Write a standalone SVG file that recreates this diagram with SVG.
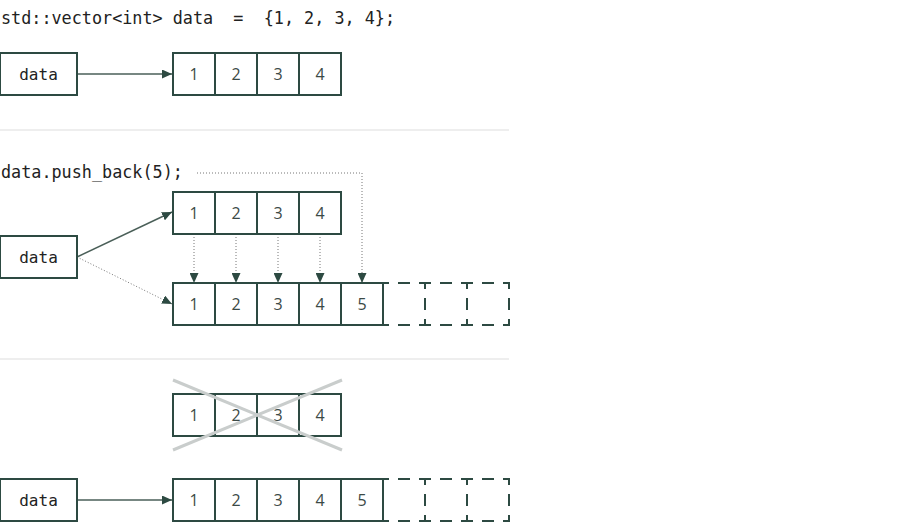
<svg xmlns="http://www.w3.org/2000/svg" width="900" height="531" viewBox="0 0 900 531">
<defs>
<marker id="ah" markerUnits="userSpaceOnUse" markerWidth="10" markerHeight="9" refX="10" refY="4.5" orient="auto"><path d="M0,0 L10,4.5 L0,9 z" fill="#2d4a42"/></marker>
<style>
.code{font-family:"DejaVu Sans Mono","Liberation Mono",monospace;font-size:16.8px;fill:#222}
.lbl{font-family:"DejaVu Sans Mono","Liberation Mono",monospace;font-size:16px;fill:#222;text-anchor:middle}
.num{font-family:"Open Sans","Noto Sans",sans-serif;font-size:16px;fill:#3c4a46;text-anchor:middle}
.box{fill:#fff;stroke:#2d4a42;stroke-width:2}
.dash{fill:none;stroke:#2d4a42;stroke-width:2;stroke-dasharray:12 9;stroke-dashoffset:6}
.sep{stroke:#dddddd;stroke-width:1}
.solid{stroke:#4a5f58;stroke-width:1.5;fill:none}
.dot{stroke:#777;stroke-width:1;stroke-dasharray:1 2;fill:none}
.cross{stroke:#c9cdcc;stroke-width:3}
</style>
</defs>
<rect width="900" height="531" fill="#fff"/>
<text class="code" x="1" y="24" xml:space="preserve">std::vector&lt;int&gt; data  =  {1, 2, 3, 4};</text>
<text class="code" x="1" y="178">data.push_back(5);</text>
<line class="sep" x1="0" y1="130" x2="509" y2="130"/>
<line class="sep" x1="0" y1="359" x2="509" y2="359"/>
<g id="connectors">
<line class="solid" x1="77" y1="74" x2="172" y2="74" marker-end="url(#ah)"/>
<line class="solid" x1="77" y1="257" x2="172" y2="212" marker-end="url(#ah)"/>
<line class="dot" x1="77" y1="257" x2="172" y2="304" marker-end="url(#ah)"/>
<polyline class="dot" points="197,173 362,173 362,283" marker-end="url(#ah)"/>
<line class="dot" x1="194" y1="234" x2="194" y2="283" marker-end="url(#ah)"/>
<line class="dot" x1="236" y1="234" x2="236" y2="283" marker-end="url(#ah)"/>
<line class="dot" x1="278" y1="234" x2="278" y2="283" marker-end="url(#ah)"/>
<line class="dot" x1="320" y1="234" x2="320" y2="283" marker-end="url(#ah)"/>
<line class="solid" x1="77" y1="500" x2="172" y2="500" marker-end="url(#ah)"/>
</g>
<g id="data1"><rect class="box" x="0" y="53" width="77" height="42"/><text class="lbl" x="38.5" y="79.5">data</text></g>
<g id="arr1">
<rect class="box" x="173" y="53" width="42" height="42"/><text class="num" x="194" y="79.5">1</text>
<rect class="box" x="215" y="53" width="42" height="42"/><text class="num" x="236" y="79.5">2</text>
<rect class="box" x="257" y="53" width="42" height="42"/><text class="num" x="278" y="79.5">3</text>
<rect class="box" x="299" y="53" width="42" height="42"/><text class="num" x="320" y="79.5">4</text>
</g>
<g id="data2"><rect class="box" x="0" y="236" width="77" height="42"/><text class="lbl" x="38.5" y="262.5">data</text></g>
<g id="arr2">
<rect class="box" x="173" y="192" width="42" height="42"/><text class="num" x="194" y="218.5">1</text>
<rect class="box" x="215" y="192" width="42" height="42"/><text class="num" x="236" y="218.5">2</text>
<rect class="box" x="257" y="192" width="42" height="42"/><text class="num" x="278" y="218.5">3</text>
<rect class="box" x="299" y="192" width="42" height="42"/><text class="num" x="320" y="218.5">4</text>
</g>
<g id="arr3">
<rect class="box" x="173" y="283" width="42" height="42"/><text class="num" x="194" y="309.5">1</text>
<rect class="box" x="215" y="283" width="42" height="42"/><text class="num" x="236" y="309.5">2</text>
<rect class="box" x="257" y="283" width="42" height="42"/><text class="num" x="278" y="309.5">3</text>
<rect class="box" x="299" y="283" width="42" height="42"/><text class="num" x="320" y="309.5">4</text>
<rect class="box" x="341" y="283" width="42" height="42"/><text class="num" x="362" y="309.5">5</text>
<rect class="dash" x="383" y="283" width="42" height="42"/>
<rect class="dash" x="425" y="283" width="42" height="42"/>
<rect class="dash" x="467" y="283" width="42" height="42"/>
</g>
<g id="arr4">
<rect class="box" x="173" y="394" width="42" height="42"/><text class="num" x="194" y="420.5">1</text>
<rect class="box" x="215" y="394" width="42" height="42"/><text class="num" x="236" y="420.5">2</text>
<rect class="box" x="257" y="394" width="42" height="42"/><text class="num" x="278" y="420.5">3</text>
<rect class="box" x="299" y="394" width="42" height="42"/><text class="num" x="320" y="420.5">4</text>
<line class="cross" x1="173" y1="380" x2="342" y2="450"/>
<line class="cross" x1="173" y1="450" x2="342" y2="380"/>
</g>
<g id="data3"><rect class="box" x="0" y="479" width="77" height="42"/><text class="lbl" x="38.5" y="505.5">data</text></g>
<g id="arr5">
<rect class="box" x="173" y="479" width="42" height="42"/><text class="num" x="194" y="505.5">1</text>
<rect class="box" x="215" y="479" width="42" height="42"/><text class="num" x="236" y="505.5">2</text>
<rect class="box" x="257" y="479" width="42" height="42"/><text class="num" x="278" y="505.5">3</text>
<rect class="box" x="299" y="479" width="42" height="42"/><text class="num" x="320" y="505.5">4</text>
<rect class="box" x="341" y="479" width="42" height="42"/><text class="num" x="362" y="505.5">5</text>
<rect class="dash" x="383" y="479" width="42" height="42"/>
<rect class="dash" x="425" y="479" width="42" height="42"/>
<rect class="dash" x="467" y="479" width="42" height="42"/>
</g>
</svg>
